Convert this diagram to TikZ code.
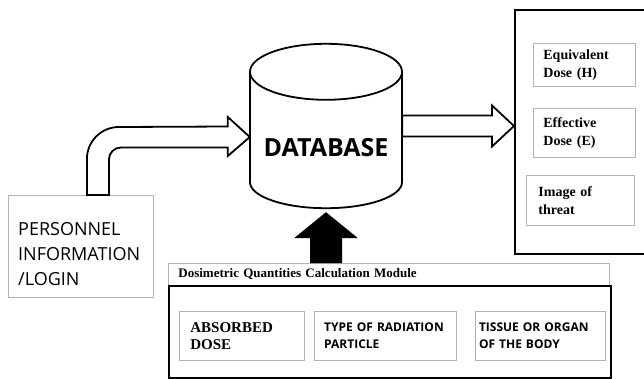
\documentclass[tikz,border=0pt]{standalone}
\usepackage{fontspec}
\setmainfont{Liberation Serif}
\newfontfamily\opensans{Open Sans}
\usetikzlibrary{positioning, calc}
\tikzstyle{Thin} = [draw=gray!60, line width=0.8pt, inner ysep=0pt, anchor=north west, align=left]
\tikzstyle{Thick} = [draw=black, line width=2.2pt, anchor=north west]
\tikzstyle{Block} = [draw=black, line width=1.8pt, fill=white, line join=miter]
\tikzstyle{Serif} = [font=\bfseries\fontsize{14}{18}\selectfont]
\tikzstyle{Sans} = [font=\opensans\bfseries\fontsize{12}{17}\selectfont]

\begin{document}
\begin{tikzpicture}[x=1pt, y=-1pt]
    \useasboundingbox (0,0) rectangle (644,378);
    \clip (0,0) rectangle (644,378);
    % personnel
    \node (1) [Thin, minimum width=145pt, minimum height=102pt] at (8,195) {};
    \node (1a) [anchor=west, inner sep=0pt, align=left,
        font=\opensans\fontsize{18}{25}\selectfont] at ($(1.west)+(10,8)$)
        {PERSONNEL\\INFORMATION\\/LOGIN};
    % database
    \node (2) [minimum width=152pt, minimum height=164pt, inner sep=0pt] at (326,126) {};
    \coordinate (2t) at ($(2.north)+(0,28)$);
    \coordinate (2b) at ($(2.south)+(0,-26)$);
    \draw[Block] ($(2t)+(-76,0)$) -- ($(2b)+(-76,0)$)
        arc[start angle=180, end angle=0, x radius=76, y radius=26]
        -- ($(2t)+(76,0)$) arc[start angle=0, end angle=-180, x radius=76, y radius=28] -- cycle;
    \draw[Block] ($(2t)+(-76,0)$) arc[start angle=180, end angle=0, x radius=76, y radius=28];
    \node (2a) [font=\opensans\bfseries\fontsize{25}{25}\selectfont] at ($(2.center)+(0,22)$) {DATABASE};
    % results
    \node (3) [Thick, minimum width=150pt, minimum height=244pt] at (514,9) {};
    \node (4) [Thin, Serif, inner xsep=10pt, text width=82pt, minimum height=43pt] at (533,43) {Equivalent\\Dose (H)};
    \node (5) [Thin, Serif, inner xsep=10pt, text width=82pt, minimum height=49pt] at (533,108) {Effective\\Dose (E)};
    \node (6) [Thin, Serif, inner xsep=12pt, text width=84pt, minimum height=50pt] at (526,175) {Image of\\threat};
    % calculation module
    \node (7) [Thin, inner xsep=10pt, text width=421pt, minimum height=22pt,
        font=\bfseries\fontsize{13}{13}\selectfont] at (168,263) {Dosimetric Quantities Calculation Module};
    \node (8) [Thick, minimum width=442pt, minimum height=92pt] at (168,285) {};
    \node (9) [Thin, font=\bfseries\fontsize{15}{17}\selectfont, inner xsep=11pt, text width=103pt,
        minimum height=49pt] at (179,311) {ABSORBED\\DOSE};
    \node (10) [Thin, Sans, inner xsep=10pt, text width=122pt, minimum height=49pt,
        anchor=west, right=9pt of 9] {TYPE OF RADIATION\\PARTICLE};
    \node (11) [Thin, Sans, inner xsep=4pt, text width=122pt, minimum height=49pt,
        anchor=west, right=18pt of 10] {TISSUE OR ORGAN\\OF THE BODY};
    % arrows
    \coordinate (a) at ($(1.north)+(6,0)$);
    \coordinate (b) at ($(2.west)+(0,11)$);
    \draw[Block] (a) -- ++(0,-36) arc[start angle=180, end angle=270, radius=32]
        -- ($(b)+(-22,-10.5)$) -- ++(0,-9.5) -- (b) -- ($(b)+(-22,19)$) -- ++(0,-8.5)
        -- ($(a |- b)+(34,10.5)$) arc[start angle=270, end angle=180, radius=12]
        -- ($(a)+(22,0)$) -- cycle;
    \coordinate (c) at (3.west |- 2.east);
    \draw[Block] ($(2.east)+(0,-10.5)$) -- ($(c)+(-22,-10.5)$) -- ++(0,-10) -- (c)
        -- ($(c)+(-22,20.5)$) -- ++(0,-10) -- ($(2.east)+(0,10.5)$) -- cycle;
    \coordinate (t) at ($(2.south)+(0,4)$);
    \fill (t) -- ++(32,26) -- ++(-16,0) -- ($(t |- 7.north)+(16,0)$) -- ++(-32,0)
        -- ($(t)+(-16,26)$) -- ++(-16,0) -- cycle;
\end{tikzpicture}
\end{document}
